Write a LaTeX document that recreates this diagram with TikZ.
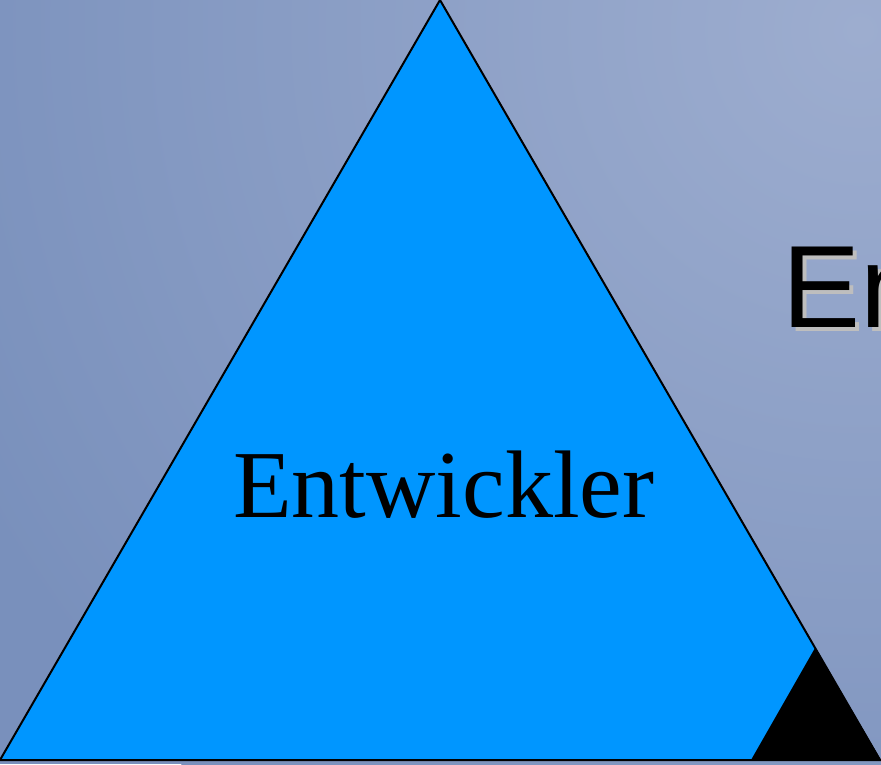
\documentclass[tikz,border=0pt]{standalone}
\usepackage{fontspec}
\setmainfont{Liberation Serif}
\newfontfamily\arialish{Liberation Sans}
\definecolor{bgdark}{HTML}{7990BC}
\definecolor{bglight}{HTML}{9DADCF}
\definecolor{triblue}{HTML}{0096FF}
\definecolor{shadowgray}{HTML}{BEBEBE}
\tikzset{
  tri/.style={fill=triblue, draw=black, line width=2pt, line join=miter},
  corner/.style={fill=black, draw=none},
  label/.style={inner sep=0pt, anchor=base west},
}
\begin{document}
\begin{tikzpicture}[x=1pt,y=-1pt]
\useasboundingbox (0,0) rectangle (881,764);
\clip (0,0) rectangle (881,764);
\fill[bgdark] (0,0) rectangle (881,764);
\shade[inner color=bglight, outer color=bgdark] (860,30) circle (1000);
\coordinate (apex) at (440,0);
\coordinate (bl) at (0,760);
\coordinate (br) at (880,760);
\draw[tri] (apex) -- (br) -- (bl) -- cycle;
\coordinate (capex) at (815,648);
\coordinate (cl) at (751,760);
\coordinate (cr) at (881,760);
\fill[corner] (capex) -- (cr) -- (cl) -- cycle;
\draw[black, line width=2pt] (bl) -- (cr);
\node[label, font=\fontsize{96}{96}\selectfont] (ent) at (233,517) {Entwickler};
\node[label, font=\arialish\fontsize{117}{117}\selectfont, text=shadowgray] (ensh) at (786,331) {En};
\node[label, font=\arialish\fontsize{117}{117}\selectfont] (en) at (782,327) {En};
\end{tikzpicture}
\end{document}
